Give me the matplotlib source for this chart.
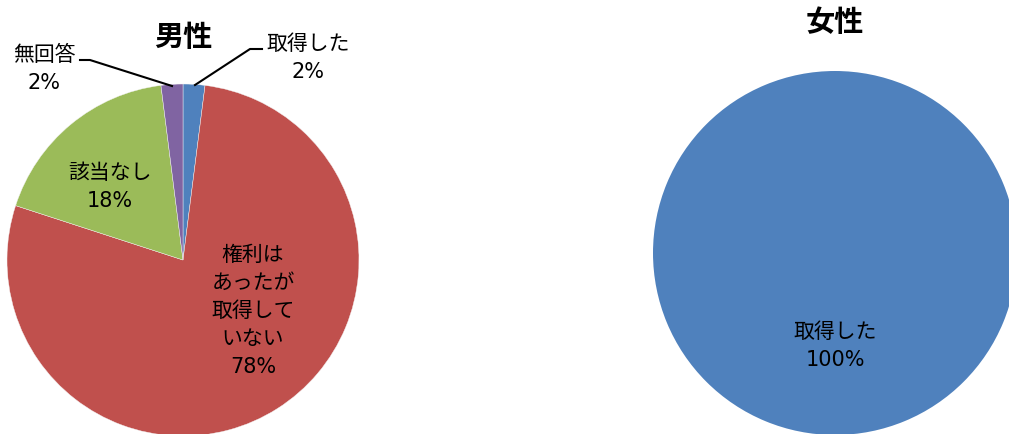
import matplotlib
matplotlib.use("Agg")
import matplotlib.pyplot as plt

plt.rcParams['font.family'] = ['DejaVu Sans', 'Noto Sans CJK JP']

# Male responses (percent)
male_labels = ["取得した", "権利は\nあったが\n取得して\nいない", "該当なし", "無回答"]
male_values = [2, 78, 18, 2]
# Female responses (percent)
female_labels = ["取得した"]
female_values = [100]

colors = ["#4F81BD", "#C0504D", "#9BBB59", "#8064A2"]

W, H = 1009, 435
fig = plt.figure(figsize=(W / 100, H / 100), dpi=100)
ax = fig.add_axes([0, 0, 1, 1])


def Y(y):
    return H - y


def finish():
    ax.set_xlim(0, W)
    ax.set_ylim(0, H)
    ax.set_aspect('equal')
    ax.axis('off')


fs = 15
ls = 1.5
title_font = dict(fontsize=21, fontweight='bold', family=['Noto Sans CJK JP'])

# Male pie
ax.pie(male_values, colors=colors, startangle=90, counterclock=False,
       center=(183, Y(261)), radius=176, frame=True,
       wedgeprops=dict(linewidth=0.3, edgecolor='#f4f4f4'))
finish()

ax.text(183, Y(37), "男性", ha='center', va='center', **title_font)
ax.text(308, Y(58), f"{male_labels[0]}\n{male_values[0]}%", ha='center', va='center',
        fontsize=fs, linespacing=ls)
ax.plot([195, 250, 262], [Y(86), Y(50), Y(50)], color='black', lw=1.5)
ax.text(44, Y(69), f"{male_labels[3]}\n{male_values[3]}%", ha='center', va='center',
        fontsize=fs, linespacing=ls)
ax.plot([80, 90, 172], [Y(61), Y(61), Y(87)], color='black', lw=1.5)
ax.text(110, Y(187), f"{male_labels[2]}\n{male_values[2]}%", ha='center', va='center',
        fontsize=fs, linespacing=ls)
ax.text(253, Y(311), f"{male_labels[1]}\n{male_values[1]}%", ha='center', va='center',
        fontsize=fs, linespacing=ls)

# Female pie
ax.pie(female_values, colors=colors[:1], startangle=90, counterclock=False,
       center=(835, Y(254)), radius=182, frame=True,
       wedgeprops=dict(linewidth=0))
finish()
ax.text(835, Y(22), "女性", ha='center', va='center', **title_font)
ax.text(835, Y(346), f"{female_labels[0]}\n{female_values[0]}%", ha='center', va='center',
        fontsize=fs, linespacing=ls)

fig.savefig("out.png", dpi=100)
